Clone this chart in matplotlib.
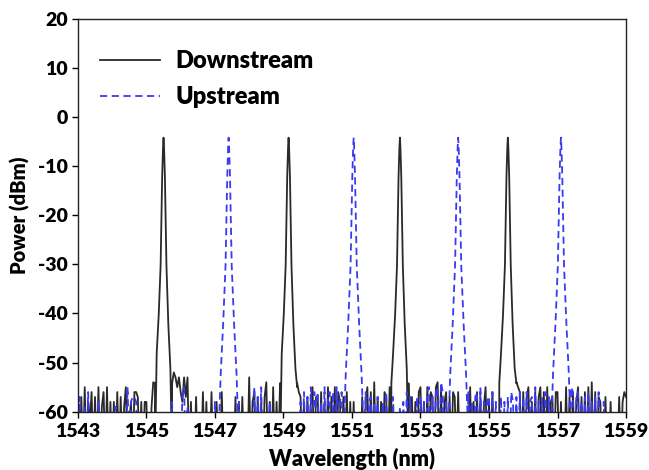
import numpy as np
import matplotlib
matplotlib.use("Agg")
import matplotlib.pyplot as plt

plt.rcParams['font.family'] = ['Lato', 'DejaVu Sans']
plt.rcParams['font.weight'] = 'heavy'
plt.rcParams['axes.unicode_minus'] = False

# Channel centre wavelengths (nm) and peak powers (dBm)
down_centers = [1545.50, 1549.15, 1552.40, 1555.55]
down_peaks = [-4.2, -4.2, -4.2, -4.2]
up_centers = [1547.40, 1551.05, 1554.10, 1557.10]
up_peaks = [-4.2, -4.2, -4.2, -4.2]

# Line shape of one channel: offset from centre (nm) vs drop from peak (dB)
down_shape_dx = [-0.25, -0.20, -0.14, -0.085, -0.04, -0.015, 0.0, 0.015, 0.04, 0.085, 0.14, 0.20, 0.25]
down_shape_db = [-50, -44, -36, -26, -8, -2, 0, -2, -8, -26, -38, -47, -50]
up_shape_dx = [-0.28, -0.23, -0.16, -0.09, -0.04, -0.015, 0.0, 0.015, 0.04, 0.09, 0.16, 0.23, 0.28]
up_shape_db = [-58, -48, -38, -26, -8, -2, 0, -2, -8, -26, -38, -48, -58]

# Noise floor sampled every 0.05 nm from 1543.00 to 1559.00 (dBm, -70 = below screen)
noise_wl = np.round(np.arange(1543.0, 1559.001, 0.05), 2)
down_noise = [
    -58, -70, -57, -70, -55, -70, -58, -62, -56, -70, -57, -70, -55, -70, -59, -56, -70, -55, -70, -58,
    -70, -58, -70, -56, -70, -57, -70, -59, -55, -70, -62, -58, -70, -56, -56, -57, -70, -58, -70, -58,
    -58, -70, -70, -59, -54, -70, -70, -70, -70, -70, -70, -70, -70, -70, -70, -70, -52, -53, -55, -53,
    -56, -58, -53, -57, -53, -70, -58, -70, -70, -57, -70, -70, -70, -56, -70, -58, -70, -70, -56, -70,
    -70, -58, -70, -70, -56, -70, -70, -70, -70, -70, -70, -70, -57, -70, -58, -70, -57, -70, -70, -70,
    -53, -70, -58, -56, -70, -57, -70, -58, -70, -57, -54, -70, -58, -70, -55, -70, -58, -70, -70, -70,
    -70, -70, -70, -70, -70, -70, -70, -70, -55, -56, -57, -70, -58, -70, -57, -70, -58, -55, -70, -57,
    -57, -70, -56, -70, -58, -70, -55, -70, -57, -70, -55, -70, -56, -58, -70, -57, -70, -56, -70, -58,
    -70, -58, -70, -70, -70, -70, -57, -70, -58, -55, -70, -56, -70, -54, -70, -57, -70, -58, -70, -56,
    -57, -70, -55, -70, -70, -70, -70, -70, -70, -70, -70, -70, -70, -70, -70, -57, -70, -58, -70, -56,
    -55, -70, -58, -70, -55, -70, -56, -57, -70, -55, -54, -70, -55, -70, -58, -56, -70, -57, -70, -56,
    -57, -70, -56, -70, -70, -70, -70, -70, -70, -55, -70, -58, -70, -56, -70, -57, -70, -59, -55, -70,
    -58, -70, -56, -70, -70, -70, -70, -70, -70, -70, -70, -70, -70, -70, -70, -70, -54, -55, -56, -70,
    -56, -70, -57, -55, -70, -58, -70, -56, -70, -57, -55, -70, -56, -70, -55, -70, -58, -57, -70, -56,
    -56, -70, -58, -70, -70, -55, -70, -57, -70, -56, -70, -58, -55, -70, -57, -70, -56, -70, -55, -70,
    -54, -70, -56, -70, -57, -58, -70, -70, -57, -70, -70, -58, -70, -70, -70, -70, -57, -70, -58, -56,
    -57,
]
up_noise = [
    -70, -57, -70, -70, -59, -70, -56, -70, -70, -70, -70, -70, -58, -70, -70, -70, -70, -70, -70, -70,
    -70, -70, -59, -70, -70, -70, -70, -70, -70, -55, -70, -58, -57, -57, -58, -70, -70, -70, -70, -70,
    -70, -70, -70, -70, -70, -70, -70, -70, -70, -70, -70, -70, -70, -70, -70, -58, -70, -70, -70, -70,
    -70, -57, -55, -70, -59, -70, -70, -70, -70, -70, -70, -70, -70, -70, -70, -70, -70, -70, -70, -70,
    -58, -70, -70, -70, -70, -70, -70, -70, -70, -70, -70, -70, -70, -70, -58, -70, -70, -70, -70, -70,
    -70, -70, -70, -55, -70, -57, -70, -55, -70, -70, -70, -70, -58, -70, -70, -70, -70, -70, -70, -70,
    -70, -70, -70, -70, -70, -70, -70, -70, -70, -70, -58, -70, -56, -70, -57, -70, -55, -70, -56, -59,
    -56, -70, -58, -70, -55, -70, -57, -56, -70, -56, -70, -55, -70, -58, -56, -70, -57, -70, -55, -70,
    -70, -70, -70, -70, -70, -70, -70, -70, -56, -70, -58, -57, -70, -58, -70, -57, -70, -70, -58, -70,
    -56, -70, -70, -70, -57, -70, -70, -70, -59, -70, -58, -70, -56, -70, -57, -70, -70, -70, -57, -70,
    -57, -70, -58, -70, -56, -55, -70, -57, -70, -56, -55, -70, -54, -56, -70, -58, -70, -56, -70, -70,
    -70, -70, -70, -70, -70, -70, -70, -70, -56, -70, -58, -70, -57, -56, -70, -55, -70, -58, -70, -57,
    -57, -70, -56, -70, -58, -70, -70, -57, -70, -58, -70, -57, -70, -56, -58, -70, -57, -70, -56, -70,
    -57, -70, -56, -70, -58, -57, -70, -55, -70, -58, -70, -57, -70, -56, -70, -57, -70, -70, -57, -70,
    -70, -70, -70, -70, -70, -70, -70, -70, -55, -56, -70, -57, -56, -70, -58, -70, -57, -70, -56, -70,
    -58, -70, -57, -70, -56, -70, -70, -58, -70, -70, -70, -70, -70, -70, -70, -70, -70, -70, -70, -70,
    -70,
]
assert len(down_noise) == len(noise_wl) and len(up_noise) == len(noise_wl)


def build_spectrum(centers, peaks, shape_dx, shape_db, noise):
    # keep the noise samples away from the channels, then add each channel's line shape
    half = max(abs(d) for d in shape_dx) - 1e-6
    wl, pw = [], []
    for x, p in zip(noise_wl, noise):
        if all(abs(x - c) > half for c in centers):
            wl.append(x)
            pw.append(p)
    for c, pk in zip(centers, peaks):
        for dx, db in zip(shape_dx, shape_db):
            wl.append(c + dx)
            pw.append(pk + db)
    order = np.argsort(wl)
    return np.array(wl)[order], np.array(pw)[order]


down_wl, down_pw = build_spectrum(down_centers, down_peaks, down_shape_dx, down_shape_db, down_noise)
up_wl, up_pw = build_spectrum(up_centers, up_peaks, up_shape_dx, up_shape_db, up_noise)

fig = plt.figure(figsize=(6.49, 4.70), dpi=100)
fig.subplots_adjust(left=0.120, right=0.9646, top=0.960, bottom=0.124)
ax = fig.add_subplot(111)

ax.plot(down_wl, down_pw, color='#2a2a2a', linewidth=1.3, label='Downstream')
ax.plot(up_wl, up_pw, color='#3a3af0', linewidth=1.3, dashes=(4, 2.5), label='Upstream')

ax.set_xlim(1543, 1559)
ax.set_ylim(-60, 20)
ax.set_xticks(np.arange(1543, 1560, 2))
ax.set_yticks(np.arange(-60, 21, 10))
ax.tick_params(axis='x', direction='out', length=4, width=1, labelsize=14, pad=4)
ax.tick_params(axis='y', direction='out', length=4, width=1, labelsize=14, pad=3)
for lab in ax.get_xticklabels() + ax.get_yticklabels():
    lab.set_fontweight('heavy')
for s in ax.spines.values():
    s.set_linewidth(1.0)
    s.set_color('#222222')

ax.set_xlabel('Wavelength (nm)', fontsize=15.5, fontweight='heavy', labelpad=6)
ax.set_ylabel('Power (dBm)', fontsize=14.5, fontweight='heavy', labelpad=6)

leg = ax.legend(loc='upper left', bbox_to_anchor=(0.023, 0.945), frameon=False,
                fontsize=17, handlelength=2.55, handletextpad=0.64, labelspacing=0.6,
                borderaxespad=0.0)
for t in leg.get_texts():
    t.set_fontweight('heavy')

fig.savefig('out.png', dpi=100)
